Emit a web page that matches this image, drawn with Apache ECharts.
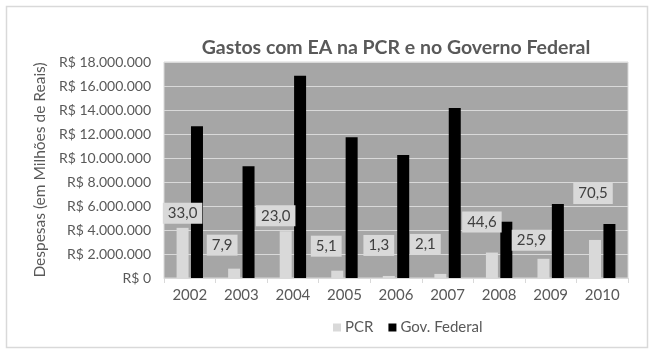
<!DOCTYPE html>
<html>
<head>
<meta charset="utf-8">
<script src="https://cdn.jsdelivr.net/npm/echarts@6/dist/echarts.min.js"></script>
<style>html,body{margin:0;padding:0;background:#fff}#c{width:654px;height:357px}</style>
</head>
<body>
<div id="c"></div>
<script>
const categories = ['2002','2003','2004','2005','2006','2007','2008','2009','2010'];
const pcrValues = [4180000, 780000, 3900000, 610000, 170000, 340000, 2120000, 1600000, 3170000];
const govValues = [12650000, 9320000, 16850000, 11720000, 10250000, 14160000, 4690000, 6160000, 4500000];
const pcrShare = [33.0, 7.9, 23.0, 5.1, 1.3, 2.1, 44.6, 25.9, 70.5];
const labelOffsets = [[0,1],[-12,-8],[-10,0],[-11,-9],[-10,-15],[-15,-14],[-10,-15],[-12,-3],[-2,-31]];

const fmtMoney = v => v === 0 ? 'R$ 0' : 'R$ ' + String(v).replace(/\B(?=(\d{3})+(?!\d))/g, '.');
const fmtPct = v => v.toFixed(1).replace('.', ',');
const font = 'Lato';
const txt = '#595959';

const chart = echarts.init(document.getElementById('c'));
chart.setOption({
  backgroundColor: '#fff',
  animation: false,
  textStyle: { fontFamily: font },
  graphic: [{
    type: 'rect', shape: { x: 6.5, y: 6.5, width: 641, height: 341 },
    style: { fill: 'none', stroke: '#d9d9d9', lineWidth: 1.5 }, silent: true, z: -1
  }],
  title: {
    text: 'Gastos com EA na PCR e no Governo Federal',
    left: 391, top: 33, textAlign: 'center',
    textStyle: { fontFamily: font, fontSize: 19.5, fontWeight: 'bold', color: txt }
  },
  legend: {
    left: 328, top: 315, itemWidth: 8, itemHeight: 8, itemGap: 15, icon: 'rect',
    textStyle: { fontFamily: font, fontSize: 15, color: txt, padding: [0, 0, 0, -1] },
    data: ['PCR', 'Gov. Federal']
  },
  grid: {
    left: 164, right: 26, top: 62, bottom: 79, show: true,
    backgroundColor: '#a6a6a6', borderColor: '#d9d9d9', borderWidth: 1
  },
  xAxis: {
    type: 'category', data: categories,
    axisLine: { lineStyle: { color: '#d9d9d9', width: 1 } },
    axisTick: { show: true, length: 5, lineStyle: { color: '#d9d9d9' } },
    axisLabel: { fontFamily: font, fontSize: 15, color: txt, margin: 10 }
  },
  yAxis: {
    type: 'value', min: 0, max: 18000000, interval: 2000000,
    name: 'Despesas (em Milhões de Reais)', nameLocation: 'middle', nameGap: 114, nameRotate: 90,
    nameTextStyle: { fontFamily: font, fontSize: 15.5, color: txt },
    axisLine: { show: false }, axisTick: { show: false },
    axisLabel: { fontFamily: font, fontSize: 14, color: txt, margin: 13, formatter: fmtMoney },
    splitLine: { lineStyle: { color: '#d9d9d9', width: 1 } }
  },
  series: [
    {
      name: 'PCR', type: 'bar', barWidth: 12, barGap: '20%',
      itemStyle: { color: '#d9d9d9' },
      data: pcrValues.map((v, i) => ({
        value: v,
        label: {
          show: true, position: 'top', distance: 5, offset: labelOffsets[i],
          formatter: () => fmtPct(pcrShare[i]),
          fontFamily: font, fontSize: 15, lineHeight: 15, color: '#404040',
          backgroundColor: '#d9d9d9', padding: [3, 5, 3, 5]
        }
      }))
    },
    {
      name: 'Gov. Federal', type: 'bar', barWidth: 12, barGap: '20%',
      itemStyle: { color: '#000000' },
      data: govValues
    }
  ]
});
</script>
</body>
</html>
